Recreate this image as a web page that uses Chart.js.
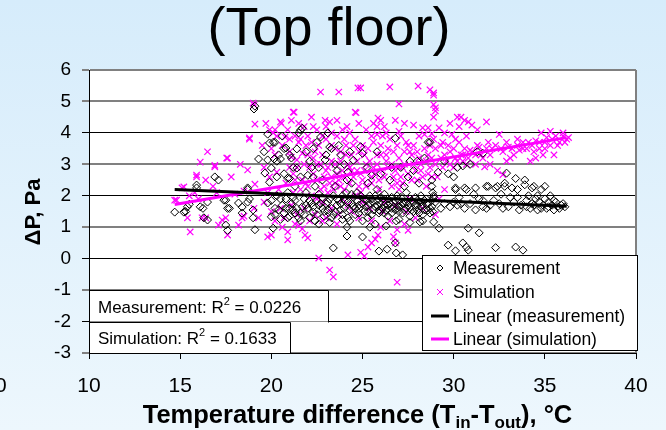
<!DOCTYPE html>
<html><head><meta charset="utf-8">
<script src="https://cdn.jsdelivr.net/npm/chart.js@4/dist/chart.umd.min.js"></script>
<style>html,body{margin:0;padding:0;background:#e3f2fc;overflow:hidden}#wrap{width:666px;height:430px}</style>
</head><body><div id="wrap"><canvas id="c" width="666" height="430"></canvas></div>
<script>
const chartTitle = '(Top floor)';
const xTickValues = [10, 15, 20, 25, 30, 35, 40];
const yTickValues = [-3, -2, -1, 0, 1, 2, 3, 4, 5, 6];
const legendLabels = ['Measurement', 'Simulation', 'Linear (measurement)', 'Linear (simulation)'];
const r2Names = ['Measurement', 'Simulation'];
const r2Values = ['0.0226', '0.1633'];

const measurementPoints = [
 [14.7,1.48],[15.2,1.48],[15.4,1.65],[15.5,1.73],[15.3,1.5],[15.9,2.34],[15.9,2.25],[16.1,1.65],[16.25,1.6],[16.5,1.8],[16.3,1.3],[16.5,1.23],[16.9,2.6],[17.1,2.5],[17.4,1.86],[17.5,1.86],[17.6,1.6],[17.7,1.6],[17.5,1.07],[17.6,0.9],[18.2,1.77],[18.4,1.64],[18.4,1.45],[18.7,2.2],[18.7,2.25],[18.7,1.8],[18.8,1.9],[19.0,1.55],[19.0,1.3],[19.1,0.92],[19.05,4.76],[19.1,4.85],[19.3,3.17],[19.65,2.72],[19.8,3.96],[19.8,3.14],[19.8,1.77],[19.9,3.68],[19.9,2.43],
 [20.0,2.88],[20.1,3.7],[20.2,3.7],[20.15,3.17],[20.5,3.17],[20.3,3.1],[20.0,1.33],[20.2,1.4],[20.1,0.97],[20.0,1.85],[20.3,2.0],[20.6,1.7],[20.7,3.5],[20.8,3.52],[20.9,2.56],[21.0,2.55],[21.0,1.6],[21.2,1.55],[20.8,1.9],[20.7,1.45],[20.9,1.3],[21.1,1.75],[21.3,1.45],[21.4,3.49],[21.4,2.88],[21.5,4.0],[21.6,4.09],[21.7,4.15],[21.5,1.3],[21.6,1.2],[21.7,1.65],[21.8,1.9],[21.9,2.1],[21.8,1.4],
 [22.0,2.65],[22.3,2.6],[22.3,3.5],[22.6,2.9],[22.7,3.87],[22.95,3.14],[23.1,4.0],[23.2,3.55],[23.3,3.5],[22.3,1.48],[22.1,1.3],[22.4,1.2],[22.2,1.75],[22.5,1.85],[22.6,2.05],[22.8,1.6],[22.9,1.35],[23.0,1.75],[23.2,1.9],[23.4,1.4],[23.3,1.3],[23.5,2.3],[23.6,1.7],[23.8,3.3],[23.8,1.55],[23.9,2.0],[23.4,0.34],[24.15,2.5],[24.2,2.75],[24.2,1.3],[24.3,1.2],[24.15,1.0],[24.15,0.72],[24.0,1.85],[24.5,3.13],[24.4,1.75],[24.6,1.6],[24.7,2.1],[24.8,1.45],[24.9,3.56],
 [25.0,3.35],[25.0,0.69],[25.25,2.9],[25.4,1.0],[25.1,1.9],[25.2,1.65],[25.3,1.5],[25.5,2.65],[25.6,1.8],[25.7,1.65],[25.8,2.2],[25.9,0.24],[25.9,1.55],[26.0,1.75],[26.1,1.9],[26.2,1.45],[26.3,1.04],[26.35,0.3],[26.4,1.7],[26.5,2.5],[26.6,1.6],[26.7,1.8],[26.8,3.83],[26.8,0.5],[26.85,1.2],[26.85,0.18],[26.9,2.0],[27.0,1.65],[27.1,2.9],[27.2,0.12],[27.3,1.75],[27.4,1.6],[27.5,2.6],[27.6,3.1],[27.6,1.9],[27.7,1.55],
 [27.9,1.7],[28.0,3.1],[28.0,1.85],[28.15,1.17],[28.2,1.65],[28.3,1.4],[28.4,3.2],[28.5,1.75],[28.6,3.7],[28.7,3.7],[28.7,1.45],[28.8,2.5],[28.8,2.3],[28.8,1.65],[28.9,1.17],[29.0,1.8],[29.15,2.75],[29.2,0.97],[29.3,1.6],[29.5,1.75],[29.7,2.7],[29.7,0.43],[29.8,1.65],[30.1,2.25],[30.1,2.2],[30.1,0.25],[30.2,2.9],[30.2,1.7],[30.4,1.75],
 [30.5,2.95],[30.5,0.5],[30.6,2.25],[30.6,1.6],[30.7,2.2],[30.7,0.37],[30.8,0.97],[30.8,0.27],[30.9,3.0],[31.2,2.25],[31.3,3.4],[31.4,0.82],[31.6,1.85],[31.6,1.65],[31.6,3.35],[31.8,2.3],[31.9,2.3],[32.0,1.7],[32.3,0.35],[32.3,2.25],[32.4,2.3],[32.5,1.75],[32.8,2.4],[32.8,2.3],[32.9,2.72],[33.0,1.65],
 [33.2,2.25],[33.3,1.8],[33.4,2.55],[33.4,0.37],[33.5,1.95],[33.7,1.7],[33.8,0.27],[33.9,2.5],[33.9,2.35],[34.0,1.85],[34.1,2.0],[34.2,1.6],[34.3,2.25],[34.3,1.75],[34.4,2.3],[34.5,1.9],[34.6,1.55],[34.7,1.8],[34.8,2.2],[34.9,1.7],[35.0,1.9],[35.1,1.6],[35.2,1.8],[35.3,2.0],[35.4,1.7],[35.5,1.55],[35.6,1.8],[35.7,1.65],[35.9,1.7],[36.0,1.75],[32.6,2.05],[31.2,1.55],
 [25.3,1.7],[25.5,1.4],[25.8,1.85],[26.0,1.5],[26.2,2.05],[26.4,1.35],[26.6,1.95],[26.8,1.55],[27.0,1.85],[27.2,1.45],[27.4,2.1],[27.6,1.35],[27.8,1.8],[28.0,1.55],[28.2,2.0],[28.4,1.85],[28.6,1.55],[27.1,1.7],[26.3,1.75],[25.4,2.0],[24.8,1.7],[24.5,1.95],[23.7,1.85],[23.1,1.55],[22.7,1.75],[22.0,1.6],[21.3,1.85],[20.4,1.55],[20.5,1.25],
 [28.85,2.1],[28.9,1.95],[28.85,1.5],[28.9,2.0],
 [20.2,1.6],[20.5,1.9],[20.8,1.6],[21.0,1.35],[21.2,1.95],[21.4,1.6],[21.6,1.45],[21.9,1.7],[22.1,1.85],[22.3,1.65],[22.5,1.4],[22.6,1.7],[22.8,1.95],[22.9,1.5],[23.1,1.8],[23.3,1.6],[23.4,2.0],[23.5,1.5],[23.6,1.9],[23.8,1.75],[23.9,1.4],[24.0,1.6],[24.1,2.1],[24.2,1.8],[24.3,1.55],[24.4,2.05],[24.5,1.65],[24.6,1.4],[24.7,1.85],[24.8,1.6],[24.9,2.0],[25.0,1.75],[25.1,1.5],[25.2,1.85],[25.3,1.3],[25.4,1.75],[25.5,1.9],[25.6,1.55],[25.7,2.0],[25.8,1.7],[25.9,1.45],[26.0,1.95],[26.1,1.6],[26.2,1.7],[26.3,1.55],[26.4,1.9],[26.5,1.75],[26.6,1.45],[26.7,1.65],[26.8,1.85],[26.9,1.6],[27.0,1.5],[27.1,1.95],[27.2,1.75],[27.3,1.55],[27.4,1.8],[27.5,1.7],[27.6,1.6],[27.7,1.85],[27.8,1.5],[27.9,1.95],[28.0,1.7],[28.1,1.45],[28.2,1.8],[28.3,1.7],[28.4,1.55],[28.5,1.9],[28.6,1.75],[28.7,1.6],[28.8,1.85],
 [20.4,3.3],[20.7,2.7],[21.1,3.2],[21.3,2.3],[20.9,2.1],[21.6,2.6],[22.1,3.1],[22.4,2.3],[22.8,2.5],[23.0,3.3],[23.6,2.8],[24.0,3.0],[24.4,2.4],[25.3,2.4],[26.0,2.7],[26.6,2.9],[27.3,2.3],[28.1,2.4],
 [22.6,1.1],[23.2,1.15],[23.9,1.25],[25.0,1.2],[25.7,1.1],[27.0,1.25],[27.6,1.15],[28.3,1.2],
 [30.0,1.8],[30.3,1.95],[30.9,1.75],[31.1,2.05],[31.4,1.9],[31.8,1.6],[32.2,1.85],[32.7,1.6],[33.1,1.95],[33.6,1.55],[34.0,1.65],[34.4,1.7],[34.8,1.6],[35.2,1.65],[35.5,1.85],[35.8,1.6],[36.1,1.65],[34.6,2.0],[35.0,2.3],[33.5,2.2],
 [20.6,3.9],[21.0,3.3],[21.9,3.4],[22.5,3.7],[22.2,2.9],[23.7,3.6],[24.3,3.4],[20.3,2.6],[19.6,3.4],[21.2,2.9],[23.5,3.0],[25.8,3.4],[27.8,2.8],[29.5,3.1],[30.0,2.6]
];

const simulationPoints = [
 [14.7,1.86],[14.8,1.86],[15.1,2.25],[15.2,2.28],[15.4,1.3],[15.55,0.85],[15.9,2.66],[15.9,2.6],[16.1,3.07],[16.2,1.3],[16.4,1.3],[16.4,2.5],[16.5,3.4],[16.9,2.92],[16.9,2.97],[17.3,1.23],[17.5,1.3],[17.1,1.07],[17.6,0.75],[17.55,3.2],[17.6,3.2],[18.2,1.07],[18.4,1.3],[18.5,1.35],[18.7,2.82],[18.8,3.8],[18.8,3.84],[19.0,4.95],[19.05,4.89],[19.1,4.28],[19.05,1.6],[19.1,2.37],[15.5,2.0],[16.0,1.9],[17.0,2.1],[18.0,2.05],[18.5,2.15],
 [19.8,0.69],[20.0,0.75],[19.9,4.1],[20.2,4.1],[20.1,4.0],[20.2,1.2],[20.3,2.75],[20.5,4.35],[20.55,4.3],[20.6,1.0],[20.75,3.87],[20.9,0.85],[20.9,0.6],[21.1,3.23],[21.2,4.66],[21.25,4.66],[21.4,3.14],[21.5,4.3],[21.7,3.35],[21.3,1.1],[21.5,1.05],[21.7,0.95],[21.85,0.75],[22.0,0.66],[21.0,2.9],[21.3,2.5],[21.6,2.2],[20.4,2.2],[20.8,2.4],[19.8,2.1],[21.9,3.6],[21.0,3.8],[20.2,3.3],
 [22.3,4.2],[22.3,3.2],[22.6,0.02],[22.7,5.3],[22.7,3.0],[22.95,4.4],[23.2,4.35],[23.2,-0.36],[23.4,-0.58],[23.3,2.6],[23.5,3.5],[23.7,5.3],[23.8,3.1],[22.4,1.4],[22.8,1.2],[23.0,1.3],[23.6,1.1],[24.15,4.2],[24.2,0.12],[24.3,2.9],[24.6,4.66],[24.65,4.64],[24.75,5.43],[24.9,5.43],[24.9,0.2],[24.5,3.6],[24.0,3.8],[24.8,2.3],[22.0,2.3],[22.5,2.5],[23.0,2.8],[23.5,2.4],[24.0,2.6],[24.4,1.5],[24.8,1.3],[22.8,1.8],[23.9,1.9],[24.6,2.0],
 [25.1,0.08],[25.3,0.37],[25.5,0.5],[25.7,0.62],[25.85,0.75],[25.85,4.47],[26.0,4.4],[25.8,4.2],[25.5,3.9],[25.8,3.95],[26.3,4.0],[26.5,5.46],[26.7,0.7],[26.8,0.5],[26.9,0.92],[26.9,-0.75],[26.0,1.0],[26.5,1.2],[27.0,4.92],[27.0,4.05],[27.3,1.1],[27.5,0.9],[27.8,4.25],[27.9,1.3],[28.05,5.49],[25.2,3.0],[25.5,2.6],[25.8,3.3],[26.1,2.8],[26.4,3.5],[26.7,2.6],[27.0,3.2],[27.2,2.9],[27.5,3.6],[27.8,3.0],[25.4,1.6],[26.2,1.8],[27.0,2.2],[27.6,1.9],[28.0,2.5],[25.0,2.5],[26.3,3.1],[27.3,3.4],
 [28.3,4.16],[28.6,4.16],[28.7,5.37],[28.9,5.27],[28.9,5.2],[28.9,4.9],[29.0,4.8],[29.0,4.7],[28.9,4.5],[29.2,4.16],[28.4,3.95],[28.8,3.97],[29.3,3.2],[29.4,2.9],[29.6,3.1],[29.8,3.0],[29.9,3.95],[30.1,3.2],[30.2,4.5],[30.4,4.5],[30.5,3.3],[30.6,4.4],[30.8,4.35],[30.7,3.0],[30.9,3.45],[28.2,2.8],[28.6,3.3],[28.8,2.6],[29.0,3.5],[29.5,2.2],[29.7,3.6],[30.0,2.9],[30.3,3.7],[28.5,2.3],[29.2,1.9],[30.5,3.1],
 [31.0,4.25],[31.3,4.1],[31.3,3.6],[31.7,2.92],[31.8,4.35],[31.9,3.7],[32.1,3.5],[32.4,2.8],[32.5,3.95],[32.7,2.67],[32.7,3.4],[33.0,3.55],[33.3,3.3],[33.5,3.6],[33.8,3.7],[34.0,3.5],[34.2,3.1],[34.3,3.6],[34.5,3.75],[34.5,3.2],[34.7,3.5],[34.9,3.3],[35.0,3.7],[35.1,3.85],[35.3,3.6],[35.5,3.3],[35.6,3.9],[35.8,3.7],[36.0,3.9],[36.0,4.0],[36.2,3.8],[36.3,3.85],[31.5,3.3],[32.0,3.0],[32.9,3.1],[33.6,3.45],[34.8,4.0],[35.3,4.05],[33.1,3.2],[31.2,3.0],
 [21.2,2.7],[21.8,3.0],[22.1,2.9],[22.4,3.4],[22.9,2.3],[23.3,3.1],[23.6,2.7],[24.1,3.3],[24.4,2.8],[24.7,3.1],[25.1,3.3],[25.6,2.9],[26.0,3.6],[26.6,3.0],[27.1,2.6],[27.7,3.3],[28.1,3.2],[28.7,2.9],[22.2,2.0],[23.1,2.1],[23.8,2.3],[24.9,2.7],[26.9,2.4],[25.9,2.2],
 [21.0,3.4],[21.2,2.1],[21.4,2.9],[21.5,3.7],[21.7,2.5],[21.9,2.4],[22.0,3.3],[22.2,3.7],[22.3,2.7],[22.5,3.0],[22.6,3.6],[22.7,2.2],[22.8,3.3],[22.9,2.6],[23.0,3.8],[23.1,2.9],[23.2,2.4],[23.3,3.6],[23.4,2.2],[23.5,3.0],[23.6,3.9],[23.7,2.5],[23.8,3.4],[23.9,2.8],[24.0,2.2],[24.1,3.6],[24.2,3.0],[24.3,2.4],[24.4,3.3],[24.5,2.6],[24.6,3.8],[24.7,2.8],[24.8,3.4],[24.9,2.1],[25.0,3.6],[25.1,2.8],[25.2,2.3],[25.3,3.5],[25.4,3.1],[25.5,2.4],[25.6,3.7],[25.7,2.7],[25.8,3.0],[25.9,2.5],[26.0,3.3],[26.1,3.9],[26.2,2.6],[26.3,3.3],[26.4,2.9],[26.5,3.8],[26.6,2.3],[26.7,3.4],[26.8,2.8],[26.9,3.6],[27.0,2.9],[27.1,3.9],[27.2,2.4],[27.3,3.0],[27.4,3.7],[27.5,2.7],[27.6,3.4],[27.7,2.5],[27.8,3.6],[27.9,2.8],[28.0,3.4],[28.1,3.9],[28.2,3.0],[28.3,2.6],[28.4,3.5],[28.5,3.1],[28.6,2.7],[28.7,3.6],[28.8,3.2],[28.9,3.8],[29.0,3.0],[29.1,2.6],[29.3,3.6],[29.5,3.3],[29.8,3.4],[30.0,3.5],[30.2,3.1],[30.4,3.3],[30.6,3.5],[30.8,3.2],[31.0,3.4],[31.2,3.3],[31.4,3.55],[31.6,3.2],[31.8,3.5],[32.0,3.3],[32.3,3.6],[32.6,3.5],[32.9,3.7],[33.2,3.5],[33.5,3.8],[33.8,3.5],[34.1,3.7],[34.4,3.4],[34.7,3.7],[35.0,3.5],[35.4,3.8],[35.7,3.6],[36.1,3.7],
 [19.3,1.3],[19.6,1.8],[20.0,1.5],[20.5,1.6],[20.7,1.3],[21.1,1.7],[21.4,1.4],[21.8,1.6],[22.1,1.2],[22.5,1.9],[23.3,1.6],[23.7,1.4],[24.2,1.7],[25.0,1.8],[25.5,1.2],[26.1,1.5],[26.8,1.7],[27.4,1.5],[28.3,1.6],[29.0,1.4],
 [19.5,3.6],[19.7,4.3],[20.0,3.5],[20.3,3.9],[20.6,3.6],[20.9,4.1],[21.1,4.4],[21.3,3.9],[21.6,3.8],[21.8,4.2],[22.0,3.9],[22.2,4.5],[22.5,4.1],[22.8,3.9],[23.0,4.2],[23.3,4.0],[23.6,4.4],[23.9,4.1],[24.3,4.0],[24.8,4.3],[25.2,4.1],[25.6,4.3],[26.2,4.2],[26.8,4.4],[27.3,4.3],[29.5,4.0],[29.8,4.3],[30.1,3.8],[30.3,4.2],[30.7,3.9],[29.4,3.7],[19.6,2.9],[19.9,2.6],[18.3,3.0],[17.8,2.6],[16.8,2.3],[15.8,2.1]
];

const measurementTrend = [[14.7, 2.2], [36.2, 1.67]];
const simulationTrend = [[14.7, 1.72], [36.2, 3.85]];

const toXY = arr => arr.map(p => ({x: p[0], y: p[1]}));
const FONT = '"Liberation Sans", Arial, sans-serif';
const MAGENTA = '#ff00ff';

const decorPlugin = {
  id: 'decor',
  beforeDraw(chart) {
    const ctx = chart.ctx, a = chart.chartArea;
    ctx.save();
    const g = ctx.createLinearGradient(0, 0, 0, chart.height);
    g.addColorStop(0, '#d6ecfb');
    g.addColorStop(1, '#edf7fd');
    ctx.fillStyle = g;
    ctx.fillRect(0, 0, chart.width, chart.height);
    ctx.fillStyle = '#ffffff';
    ctx.fillRect(a.left, a.top, a.right - a.left, a.bottom - a.top);
    ctx.restore();
  },
  afterDatasetsDraw(chart) {
    const ctx = chart.ctx, a = chart.chartArea;
    const ys = chart.scales.y;
    ctx.save();
    ctx.strokeStyle = '#808080'; ctx.lineWidth = 2;
    ctx.beginPath(); ctx.moveTo(a.right, a.top); ctx.lineTo(a.right, a.bottom); ctx.stroke();

    const rows = [[-1, -2], [-2, -3]];
    const rights = [328, 290];
    for (let i = 0; i < 2; i++) {
      const top = ys.getPixelForValue(rows[i][0]);
      const bot = ys.getPixelForValue(rows[i][1]);
      ctx.fillStyle = '#fff';
      ctx.fillRect(a.left + 1, top + 1, rights[i] - a.left - 1, bot - top - 1);
      ctx.strokeStyle = '#000'; ctx.lineWidth = 1;
      ctx.beginPath();
      ctx.moveTo(a.left, Math.round(top) + 0.5); ctx.lineTo(rights[i] + 0.5, Math.round(top) + 0.5);
      ctx.lineTo(rights[i] + 0.5, Math.round(bot) + 0.5);
      ctx.stroke();
      ctx.fillStyle = '#000';
      ctx.textBaseline = 'alphabetic'; ctx.textAlign = 'left';
      const base = (top + bot) / 2 + 7;
      let x = 98;
      const t1 = r2Names[i] + ': R';
      ctx.font = '17px ' + FONT;
      ctx.fillText(t1, x, base); x += ctx.measureText(t1).width;
      ctx.font = '11px ' + FONT;
      ctx.fillText('2', x, base - 8); x += ctx.measureText('2').width;
      ctx.font = '17px ' + FONT;
      ctx.fillText(' = ' + r2Values[i], x, base);
    }

    const lx = 422, ly = 255, lw = 215, lh = 95;
    ctx.fillStyle = '#fff';
    ctx.fillRect(lx, ly, lw, lh);
    ctx.strokeStyle = '#000'; ctx.lineWidth = 1;
    ctx.strokeRect(lx + 0.5, ly + 0.5, lw, lh);
    const rowY = [268, 292, 316, 339];
    ctx.font = '17.5px ' + FONT; ctx.textBaseline = 'middle'; ctx.textAlign = 'left';
    for (let i = 0; i < 4; i++) {
      const cy = rowY[i], cx = 440;
      if (i === 0) {
        ctx.strokeStyle = '#000'; ctx.lineWidth = 1;
        ctx.beginPath(); ctx.moveTo(cx - 3, cy); ctx.lineTo(cx, cy - 3); ctx.lineTo(cx + 3, cy); ctx.lineTo(cx, cy + 3); ctx.closePath(); ctx.stroke();
      } else if (i === 1) {
        ctx.strokeStyle = MAGENTA; ctx.lineWidth = 1;
        ctx.beginPath(); ctx.moveTo(cx - 3, cy - 3); ctx.lineTo(cx + 3, cy + 3); ctx.moveTo(cx + 3, cy - 3); ctx.lineTo(cx - 3, cy + 3); ctx.stroke();
      } else {
        ctx.strokeStyle = i === 2 ? '#000' : MAGENTA; ctx.lineWidth = 3;
        ctx.beginPath(); ctx.moveTo(431, cy); ctx.lineTo(449, cy); ctx.stroke();
      }
      ctx.fillStyle = '#000';
      ctx.fillText(legendLabels[i], 453, cy + 1);
    }
    ctx.restore();
  },
  afterDraw(chart) {
    const ctx = chart.ctx;
    ctx.save();
    ctx.fillStyle = '#000';
    ctx.font = '54px ' + FONT; ctx.textAlign = 'center'; ctx.textBaseline = 'alphabetic';
    ctx.fillText(chartTitle, 329, 45);
    ctx.save();
    ctx.translate(34, 212); ctx.rotate(-Math.PI / 2);
    ctx.font = 'bold 22px ' + FONT; ctx.textBaseline = 'middle';
    ctx.fillText('\u0394P, Pa', 0, 0);
    ctx.restore();
    const parts = [['Temperature difference (T', 0], ['in', 1], ['-T', 0], ['out', 1], ['), \u00B0C', 0]];
    const big = 'bold 25.5px ' + FONT, small = 'bold 17px ' + FONT;
    let total = 0;
    parts.forEach(p => { ctx.font = p[1] ? small : big; total += ctx.measureText(p[0]).width; });
    let x = 357.5 - total / 2;
    ctx.textAlign = 'left';
    parts.forEach(p => {
      ctx.font = p[1] ? small : big;
      ctx.fillText(p[0], x, p[1] ? 428 : 423);
      x += ctx.measureText(p[0]).width;
    });
    ctx.font = '21px ' + FONT; ctx.textBaseline = 'middle';
    ctx.fillText('0', -5, 386);
    ctx.restore();
  }
};

const oddGray = v => (Math.abs(v % 2) === 1);

new Chart(document.getElementById('c'), {
  type: 'scatter',
  data: {
    datasets: [
      {label: legendLabels[2], type: 'line', data: toXY(measurementTrend), borderColor: '#000', borderWidth: 3, pointRadius: 0, fill: false, showLine: true},
      {label: legendLabels[3], type: 'line', data: toXY(simulationTrend), borderColor: MAGENTA, borderWidth: 3, pointRadius: 0, fill: false, showLine: true},
      {label: legendLabels[0], data: toXY(measurementPoints), pointStyle: 'rectRot', pointRadius: 4, borderColor: '#000', backgroundColor: 'rgba(0,0,0,0)', pointBorderWidth: 1},
      {label: legendLabels[1], data: toXY(simulationPoints), pointStyle: 'crossRot', pointRadius: 4.5, borderColor: MAGENTA, backgroundColor: MAGENTA, pointBorderWidth: 1.2}
    ]
  },
  options: {
    responsive: false, animation: false, devicePixelRatio: 1,
    layout: {padding: {left: 0, top: 70, right: 30, bottom: 0}},
    plugins: {legend: {display: false}, tooltip: {enabled: false}, title: {display: false}},
    scales: {
      x: {
        type: 'linear', min: 10, max: 40,
        afterBuildTicks: s => { s.ticks = xTickValues.map(v => ({value: v})); },
        afterFit: s => { s.height = 77; },
        grid: {drawOnChartArea: false, drawTicks: true, tickLength: 6, color: '#000'},
        border: {color: '#000', width: 1},
        ticks: {color: '#000', font: {family: FONT, size: 21}, padding: 15, maxRotation: 0}
      },
      y: {
        type: 'linear', min: -3, max: 6,
        afterBuildTicks: s => { s.ticks = yTickValues.map(v => ({value: v})); },
        afterFit: s => { s.width = 89; },
        grid: {
          drawTicks: true, tickLength: 7,
          color: c => (c.tick && (oddGray(c.tick.value) || c.tick.value === 6)) ? '#808080' : '#000',
          lineWidth: c => (c.tick && (oddGray(c.tick.value) || c.tick.value === 6)) ? 2 : 1
        },
        border: {color: '#000', width: 1},
        ticks: {color: '#000', font: {family: FONT, size: 19}, padding: 11}
      }
    }
  },
  plugins: [decorPlugin]
});
</script></body></html>
